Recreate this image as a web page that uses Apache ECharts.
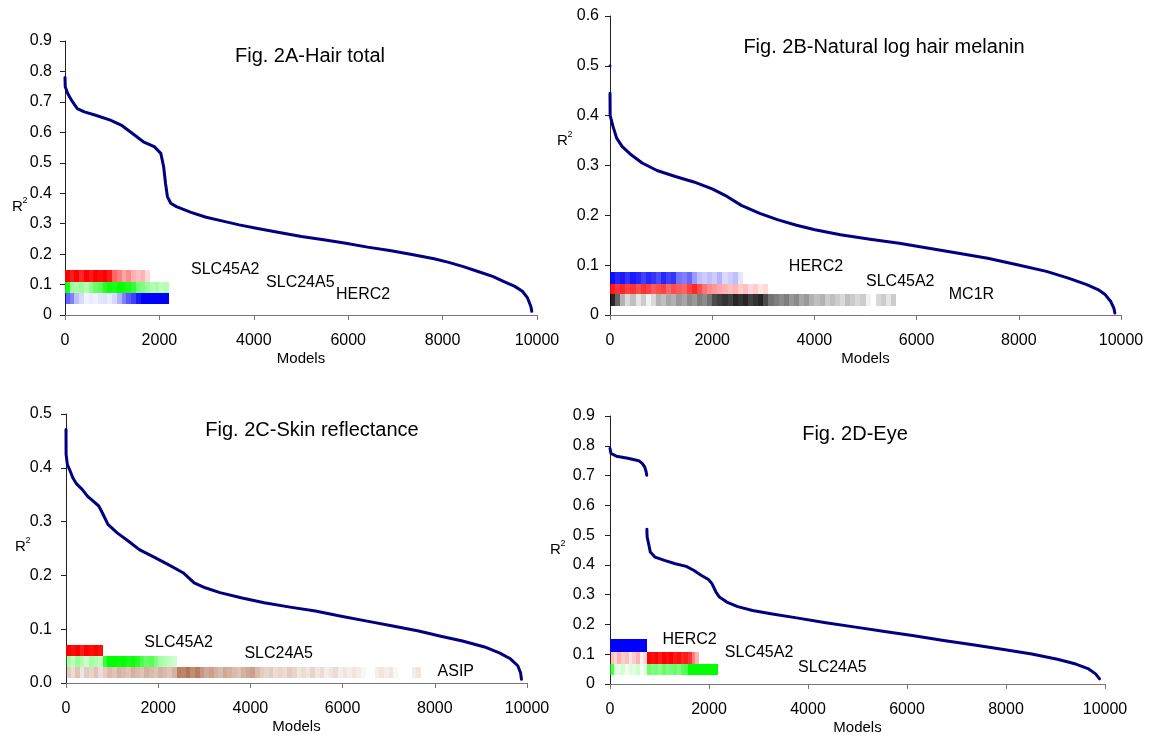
<!DOCTYPE html>
<html><head><meta charset="utf-8">
<script src="https://cdn.jsdelivr.net/npm/echarts@6/dist/echarts.min.js"></script>
<style>html,body{margin:0;padding:0;background:#fff}#c{width:1153px;height:736px}</style>
</head><body><div id="c"></div>
<script>
// ---------------- DATA ----------------
const xTickLabels = ['0','2000','4000','6000','8000','10000'];
const yTickLabelsA = ['0','0.1','0.2','0.3','0.4','0.5','0.6','0.7','0.8','0.9'];
const yTickLabelsB = ['0','0.1','0.2','0.3','0.4','0.5','0.6'];
const yTickLabelsC = ['0.0','0.1','0.2','0.3','0.4','0.5'];
const yTickLabelsD = ['0','0.1','0.2','0.3','0.4','0.5','0.6','0.7','0.8','0.9'];

const titles = ['Fig. 2A-Hair total','Fig. 2B-Natural log hair melanin','Fig. 2C-Skin reflectance','Fig. 2D-Eye'];

// sorted model R² curves (model rank, R²)
const modelsA = [0,5,60,140,260,410,650,960,1190,1430,1660,1890,2030,2090,2130,2170,2240,2360,2670,2990,3300,3690,4080,4540,5010,5480,5950,6410,6880,7350,7820,8130,8440,8750,9060,9300,9530,9690,9800,9870,9890];
const r2A     = [0.78,0.75,0.727,0.705,0.678,0.667,0.656,0.64,0.624,0.596,0.569,0.553,0.531,0.487,0.432,0.389,0.367,0.356,0.337,0.321,0.31,0.296,0.284,0.271,0.258,0.247,0.236,0.223,0.212,0.199,0.185,0.173,0.159,0.143,0.127,0.11,0.094,0.078,0.056,0.028,0.012];

const modelsB = [0,3,60,130,240,420,630,920,1280,1640,2000,2290,2570,2930,3290,3650,4010,4510,5090,5660,6240,6820,7390,7970,8540,8970,9330,9550,9690,9800,9860,9880];
const r2B     = [0.445,0.40,0.378,0.355,0.338,0.321,0.305,0.29,0.278,0.267,0.253,0.238,0.22,0.204,0.191,0.18,0.171,0.161,0.152,0.144,0.134,0.124,0.114,0.101,0.0875,0.074,0.061,0.051,0.041,0.027,0.014,0.004];
const outlierB = [[0,0.5]];

const modelsC = [0,2,30,90,150,230,350,470,590,710,790,910,1110,1350,1590,1910,2220,2540,2780,3020,3340,3820,4300,4860,5410,5970,6530,7090,7650,8130,8600,9080,9400,9640,9800,9860,9880];
const r2C     = [0.471,0.425,0.406,0.394,0.381,0.37,0.36,0.347,0.338,0.329,0.316,0.295,0.279,0.264,0.248,0.234,0.22,0.205,0.186,0.177,0.168,0.158,0.149,0.141,0.134,0.124,0.115,0.106,0.0965,0.087,0.078,0.067,0.056,0.045,0.032,0.019,0.007];

const modelsD1 = [0,20,130,360,580,650,700,730,742];
const r2D1     = [0.791,0.774,0.765,0.758,0.75,0.741,0.729,0.713,0.701];
const modelsD2 = [745,750,780,815,910,1100,1320,1540,1690,1840,1990,2060,2140,2210,2360,2580,2880,3250,3770,4360,4960,5550,6140,6740,7330,7920,8520,9040,9410,9670,9810,9890];
const r2D2     = [0.52,0.494,0.471,0.443,0.426,0.415,0.404,0.395,0.382,0.365,0.351,0.337,0.309,0.292,0.275,0.26,0.247,0.236,0.222,0.206,0.191,0.176,0.162,0.146,0.132,0.117,0.101,0.083,0.067,0.0505,0.034,0.017];

// gene presence intensity per block of models (0 = absent, 1 = in every model)
const bandA_SLC45A2 = [1,0.9,1,0.85,1,0.9,1,0.95,1,0.9,0.6,0.5,0.35,0.45,0.3,0.25,0.3,0.15];
const bandA_SLC24A5 = [0.9,0.4,0.35,0.4,0.3,0.45,0.6,0.65,0.85,0.95,0.9,1,0.95,0.9,0.8,0.55,0.5,0.4,0.3,0.35,0.25,0.3];
const bandA_HERC2   = [0.6,0.5,0.25,0.15,0.05,0.08,0.05,0.1,0.12,0.08,0.15,0.3,0.5,0.65,0.75,0.9,1,1,1,1,1,1];

const bandB_HERC2   = [0.95,0.85,0.9,0.8,0.9,0.85,0.75,0.85,0.8,0.7,0.85,0.75,0.8,0.55,0.5,0.6,0.4,0.25,0.2,0.25,0.2,0.3,0.15,0.2,0.25,0.1];
const bandB_SLC45A2 = [0.9,0.8,0.85,0.75,0.8,0.7,0.8,0.75,0.65,0.7,0.75,0.6,0.7,0.65,0.6,0.75,0.85,0.7,0.55,0.45,0.4,0.35,0.3,0.25,0.3,0.2,0.25,0.15,0.2,0.1,0.15];
const bandB_MC1R    = [0.85,0.6,0.3,0.15,0.25,0.1,0.2,0.05,0.15,0.3,0.25,0.35,0.3,0.4,0.35,0.45,0.4,0.5,0.45,0.55,0.7,0.75,0.8,0.75,0.85,0.8,0.85,0.75,0.8,0.85,0.7,0.55,0.5,0.45,0.5,0.4,0.45,0.35,0.4,0.3,0.25,0.3,0.2,0.25,0.2,0.15,0.25,0.2,0.15,0.2,0.05,0,0.15,0.2,0.1,0.2];

const bandC_SLC45A2 = [1,0.95,1,0.9,1,0.95,1,0.95];
const bandC_SLC24A5 = [0.35,0.25,0.4,0.3,0.2,0.35,0.3,0.25,0.8,1,1,0.95,1,0.9,0.95,0.85,0.7,0.6,0.65,0.5,0.35,0.3,0.25,0.2];
const bandC_ASIP    = [0.3,0.2,0.35,0.15,0.3,0.25,0.35,0.2,0.3,0.4,0.35,0.45,0.4,0.35,0.45,0.4,0.35,0.45,0.4,0.35,0.45,0.4,0.35,0.45,0.75,0.7,0.8,0.65,0.75,0.6,0.5,0.55,0.45,0.4,0.5,0.45,0.4,0.35,0.45,0.5,0.55,0.4,0.3,0.25,0.3,0.2,0.25,0.2,0.3,0.25,0.15,0.2,0.15,0.25,0.15,0.2,0.1,0.15,0.2,0.1,0.15,0.1,0.15,0.1,0.05,0,0,0.1,0.15,0.1,0.15,0.05,0,0,0,0.1,0.15];

const bandD_HERC2   = [1,1,1,1,1,1,1,1,1,1];
const bandD_SLC45A2 = [0.25,0.15,0.3,0.2,0.25,0.1,0.2,0.3,0.05,0.15,1,0.95,1,0.9,1,0.95,1,0.9,0.95,0.85,0.9,0.8,0.5,0.3];
const bandD_SLC24A5 = [0.7,0.15,0.1,0.2,0.05,0.15,0.1,0.2,0.05,0.1,0.6,0.5,0.55,0.45,0.6,0.5,0.55,0.6,0.5,0.65,0.7,1,1,1,1,1,1,1,1];

// gene names and their label anchor (model, R²)
const genesA = [['SLC45A2',2670,0.148],['SLC24A5',4260,0.105],['HERC2',5740,0.066]];
const genesB = [['HERC2',3500,0.0963],['SLC45A2',5010,0.068],['MC1R',6630,0.040]];
const genesC = [['SLC45A2',1700,0.076],['SLC24A5',3870,0.054],['ASIP',8060,0.022]];
const genesD = [['HERC2',1060,0.150],['SLC45A2',2320,0.106],['SLC24A5',3800,0.056]];

// ---------------- LAYOUT / STYLE ----------------
const FONT = "'Liberation Sans', Arial, Helvetica, sans-serif";
const NAVY = '#000080';
const COL = {red:'#ff0000', green:'#00ff00', blue:'#0000ff', black:'#000000', brown:'#a0522d'};
const grids = [
  {left:65, top:41, width:472, height:274},
  {left:610, top:16, width:511, height:299},
  {left:66, top:414, width:461, height:269},
  {left:610, top:416, width:495, height:268}
];
const yMax = [0.9, 0.6, 0.5, 0.9];
const yLabels = [yTickLabelsA, yTickLabelsB, yTickLabelsC, yTickLabelsD];
const yLabelMargin = [13, 11, 14, 15];

const bands = [
  [ {v:bandA_SLC45A2, step:100, lo:0.109, hi:0.148, c:COL.red},
    {v:bandA_SLC24A5, step:100, lo:0.071, hi:0.109, c:COL.green},
    {v:bandA_HERC2,   step:100, lo:0.036, hi:0.071, c:COL.blue} ],
  [ {v:bandB_HERC2,   step:100, lo:0.062, hi:0.087, c:COL.blue},
    {v:bandB_SLC45A2, step:100, lo:0.042, hi:0.062, c:COL.red},
    {v:bandB_MC1R,    step:100, lo:0.018, hi:0.042, c:COL.black} ],
  [ {v:bandC_SLC45A2, step:100, lo:0.0507, hi:0.071, c:COL.red},
    {v:bandC_SLC24A5, step:100, lo:0.0297, hi:0.0507, c:COL.green},
    {v:bandC_ASIP,    step:100, lo:0.0093, hi:0.0297, c:COL.brown} ],
  [ {v:bandD_HERC2,   step:75, lo:0.107, hi:0.150, c:COL.blue},
    {v:bandD_SLC45A2, step:75, lo:0.066, hi:0.107, c:COL.red},
    {v:bandD_SLC24A5, step:75, lo:0.030, hi:0.066, c:COL.green} ]
];
const geneLabels = [genesA, genesB, genesC, genesD];

function hexA(hex, a) {
  const r = parseInt(hex.slice(1,3),16), g = parseInt(hex.slice(3,5),16), b = parseInt(hex.slice(5,7),16);
  return 'rgba(' + r + ',' + g + ',' + b + ',' + a + ')';
}

const option = {
  animation: false,
  backgroundColor: '#fff',
  grid: grids.map(g => Object.assign({outerBoundsMode:'none', containLabel:false}, g)),
  xAxis: grids.map((g, i) => ({
    type:'value', gridIndex:i, min:0, max:10000, interval:2000,
    name:'Models', nameLocation:'middle', nameGap:36,
    nameTextStyle:{fontFamily:FONT, fontSize:15, color:'#000'},
    axisLine:{show:true, onZero:false, lineStyle:{color:'#777', width:1}},
    axisTick:{show:true, length:5, lineStyle:{color:'#777'}},
    splitLine:{show:false},
    axisLabel:{fontFamily:FONT, fontSize:16, color:'#000', margin:18,
      formatter: v => xTickLabels[Math.round(v/2000)]}
  })),
  yAxis: grids.map((g, i) => ({
    type:'value', gridIndex:i, min:0, max:yMax[i], interval:0.1,
    axisLine:{show:true, onZero:false, lineStyle:{color:'#222', width:1}},
    axisTick:{show:true, length:5, lineStyle:{color:'#222'}},
    splitLine:{show:false},
    axisLabel:{fontFamily:FONT, fontSize:16, color:'#000', margin:yLabelMargin[i],
      formatter: v => yLabels[i][Math.round(v/0.1)]}
  })),
  graphic: [],
  series: []
};

// titles
const titlePos = [[310,56],[884,47],[312,430],[855,434]];
titles.forEach((t, i) => option.graphic.push({type:'text', x:titlePos[i][0], y:titlePos[i][1], silent:true,
  style:{text:t, font:'20px ' + FONT, fill:'#000', textAlign:'center', textVerticalAlign:'middle'}}));
// R² axis titles
const rPos = [[12,207],[557,141],[15,547],[550,550]];
rPos.forEach(p => {
  option.graphic.push({type:'text', x:p[0], y:p[1], silent:true,
    style:{text:'R', font:'15px ' + FONT, fill:'#000', textAlign:'left', textVerticalAlign:'middle'}});
  option.graphic.push({type:'text', x:p[0]+10.5, y:p[1]-6, silent:true,
    style:{text:'2', font:'9px ' + FONT, fill:'#000', textAlign:'left', textVerticalAlign:'middle'}});
});

// bands (gene presence barcodes)
bands.forEach((list, gi) => {
  list.forEach(b => {
    const data = b.v.map((a, k) => [k*b.step, (k+1)*b.step, b.lo, b.hi, a]);
    option.series.push({
      type:'custom', xAxisIndex:gi, yAxisIndex:gi, silent:true, z:1,
      data: data,
      renderItem: (params, api) => {
        const p0 = api.coord([api.value(0), api.value(3)]);
        const p1 = api.coord([api.value(1), api.value(2)]);
        const L = Math.round(p0[0]), R = Math.round(p1[0]);
        const T = Math.round(p0[1]), B = Math.round(p1[1]);
        return {type:'rect', shape:{x:L, y:T, width:R-L, height:B-T},
          style:{fill: hexA(b.c, api.value(4)), stroke:null}};
      }
    });
  });
});

// curves
function curve(gi, xs, ys) {
  option.series.push({type:'line', xAxisIndex:gi, yAxisIndex:gi, silent:true, z:3,
    showSymbol:false, symbol:'none', smooth:false,
    lineStyle:{color:NAVY, width:3, join:'round', cap:'round'},
    data: xs.map((x, k) => [x, ys[k]])});
}
curve(0, modelsA, r2A);
curve(1, modelsB, r2B);
curve(2, modelsC, r2C);
curve(3, modelsD1, r2D1);
curve(3, modelsD2, r2D2);
option.series.push({type:'scatter', xAxisIndex:1, yAxisIndex:1, silent:true, z:3,
  symbolSize:3, itemStyle:{color:NAVY}, data: outlierB});

// gene labels
geneLabels.forEach((list, gi) => {
  option.series.push({type:'scatter', xAxisIndex:gi, yAxisIndex:gi, silent:true, z:4,
    symbolSize:0, itemStyle:{color:'#000', opacity:1},
    data: list.map(g => ({name:g[0], value:[g[1], g[2]]})),
    label:{show:true, position:'right', distance:0, formatter:'{b}',
      fontFamily:FONT, fontSize:16, color:'#000', opacity:1, textBorderWidth:0}});
});

const chart = echarts.init(document.getElementById('c'), null, {renderer:'canvas', width:1153, height:736});
chart.setOption(option);
</script>
</body></html>
